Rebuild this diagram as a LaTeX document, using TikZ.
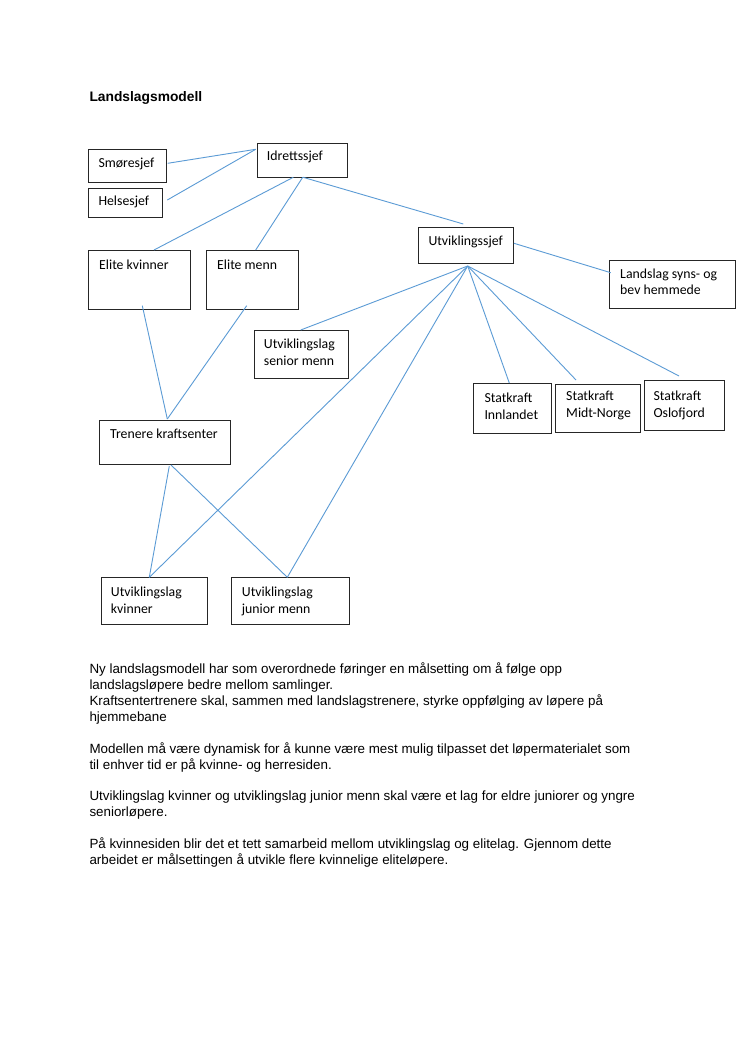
\documentclass[tikz,border=0pt]{standalone}
\usepackage{fontspec}
\setmainfont{Liberation Sans}
\newfontfamily\boxfont{Carlito}
\usetikzlibrary{calc}
\definecolor{linkblue}{HTML}{5B9BD5}
\definecolor{boxgray}{HTML}{262626}
\tikzset{
  box/.style={draw=boxgray, line width=1.1pt, inner sep=0pt, anchor=north west, rectangle},
  boxtext/.style={anchor=base west, inner sep=0pt, font=\boxfont\fontsize{13.8}{16.8}\selectfont, text=black},
  conn/.style={draw=linkblue, line width=0.9pt},
  bodytext/.style={anchor=base west, inner sep=0pt, font=\fontsize{13.37}{15.95}\selectfont, text=black},
  titletext/.style={anchor=base west, inner sep=0pt, font=\bfseries\fontsize{13.8}{16}\selectfont, text=black},
}
\newcommand\bx[5]{\node[box, minimum width={#4pt-#2pt}, minimum height={#5pt-#3pt}] (#1) at (#2,#3) {};}
\newcommand\twol[2]{\vtop{\hbox{#1}\hbox{#2}}}
\begin{document}
\begin{tikzpicture}[x=1pt, y=-1pt]
\useasboundingbox[fill=white] (0,0) rectangle (746,1056);

\node[titletext] (title) at (89.3,101.7) {Landslagsmodell};

% boxes
\bx{smo}{88.3}{149.3}{166}{182}
\bx{hel}{88.3}{188.3}{162.3}{216.7}
\bx{idr}{257.3}{142.7}{347}{177.3}
\bx{ek}{88.3}{250}{190.3}{309}
\bx{em}{206.3}{250}{298}{309}
\bx{us}{417.7}{226.7}{513.3}{263.3}
\bx{ls}{609.3}{260}{735}{308.3}
\bx{usm}{253.7}{330}{348}{378.3}
\bx{si}{473.3}{383.3}{551}{432.7}
\bx{smn}{555}{383.5}{640}{432}
\bx{so}{644.3}{380}{724}{430}
\bx{tk}{99.3}{420}{230}{464}
\bx{uk}{101}{577.3}{206.7}{624}
\bx{uj}{231}{577.3}{349.3}{624}

% box texts
\node[boxtext] (smo-t) at (98.3,167.2) {Smøresjef};
\node[boxtext] (hel-t) at (98.3,205.9) {Helsesjef};
\node[boxtext] (idr-t) at (266.7,160.6) {Idrettssjef};
\node[boxtext] (ek-t) at (99,269.6) {Elite kvinner};
\node[boxtext] (em-t) at (217,269.6) {Elite menn};
\node[boxtext] (us-t) at (428.3,245.6) {Utviklingssjef};
\node[boxtext] (ls-t) at (620,278.2) {\twol{Landslag syns- og}{bev hemmede}};
\node[boxtext] (usm-t) at (263.7,348.9) {\twol{Utviklingslag}{senior menn}};
\node[boxtext] (si-t) at (484.3,402.2) {\twol{Statkraft}{Innlandet}};
\node[boxtext] (smn-t) at (566,400.6) {\twol{Statkraft}{Midt-Norge}};
\node[boxtext] (so-t) at (653.3,400.6) {\twol{Statkraft}{Oslofjord}};
\node[boxtext] (tk-t) at (110,438.2) {Trenere kraftsenter};
\node[boxtext] (uk-t) at (110.7,596.2) {\twol{Utviklingslag}{kvinner}};
\node[boxtext] (uj-t) at (241.7,596.2) {\twol{Utviklingslag}{junior menn}};

% connector end points
\coordinate (smo-r) at (167.7,163.3);
\coordinate (hel-r) at (167.3,200);
\coordinate (idr-l) at (255.7,149.3);
\coordinate (idr-b1) at (293.3,177.3);
\coordinate (idr-b2) at (302.7,177.3);
\coordinate (idr-b3) at (303,177.3);
\coordinate (ek-top) at (154,250);
\coordinate (em-top) at (255.7,250);
\coordinate (us-top) at (463.3,224);
\coordinate (us-r) at (514,243.3);
\coordinate (ls-l) at (610.7,272.7);
\coordinate (hub) at (467.7,266);
\coordinate (usm-top) at (300.7,330);
\coordinate (uk-top) at (149.3,577.3);
\coordinate (uj-top) at (287.3,577.3);
\coordinate (si-top) at (509.3,383);
\coordinate (smn-top) at (576,380);
\coordinate (so-top) at (679,376);
\coordinate (ek-bot) at (142.3,305.7);
\coordinate (em-bot) at (246.7,305.7);
\coordinate (tk-top) at (167.3,419);
\coordinate (tk-b1) at (169.3,466);
\coordinate (tk-b2) at (171,465);

% connectors
\draw[conn] (smo-r) -- (idr-l);
\draw[conn] (hel-r) -- (idr-l);
\draw[conn] (idr-b1) -- (ek-top);
\draw[conn] (idr-b2) -- (em-top);
\draw[conn] (idr-b3) -- (us-top);
\draw[conn] (us-r) -- (ls-l);
\draw[conn] (hub) -- (usm-top);
\draw[conn] (hub) -- (uk-top);
\draw[conn] (hub) -- (uj-top);
\draw[conn] (hub) -- (si-top);
\draw[conn] (hub) -- (smn-top);
\draw[conn] (hub) -- (so-top);
\draw[conn] (ek-bot) -- (tk-top);
\draw[conn] (em-bot) -- (tk-top);
\draw[conn] (tk-b1) -- (uk-top);
\draw[conn] (tk-b2) -- (uj-top);

% body text
\node[bodytext] (body) at (89.3,673.3) {\vtop{%
\hbox{Ny landslagsmodell har som overordnede føringer en målsetting om å følge opp}
\hbox{landslagsløpere bedre mellom samlinger.}
\hbox{Kraftsentertrenere skal, sammen med landslagstrenere, styrke oppfølging av løpere på}
\hbox{hjemmebane}
\hbox{}
\hbox{Modellen må være dynamisk for å kunne være mest mulig tilpasset det løpermaterialet som}
\hbox{til enhver tid er på kvinne- og herresiden.}
\hbox{}
\hbox{Utviklingslag kvinner og utviklingslag junior menn skal være et lag for eldre juniorer og yngre}
\hbox{seniorløpere.}
\hbox{}
\hbox{På kvinnesiden blir det et tett samarbeid mellom utviklingslag og elitelag. Gjennom dette}
\hbox{arbeidet er målsettingen å utvikle flere kvinnelige eliteløpere.}}};
\end{tikzpicture}
\end{document}
